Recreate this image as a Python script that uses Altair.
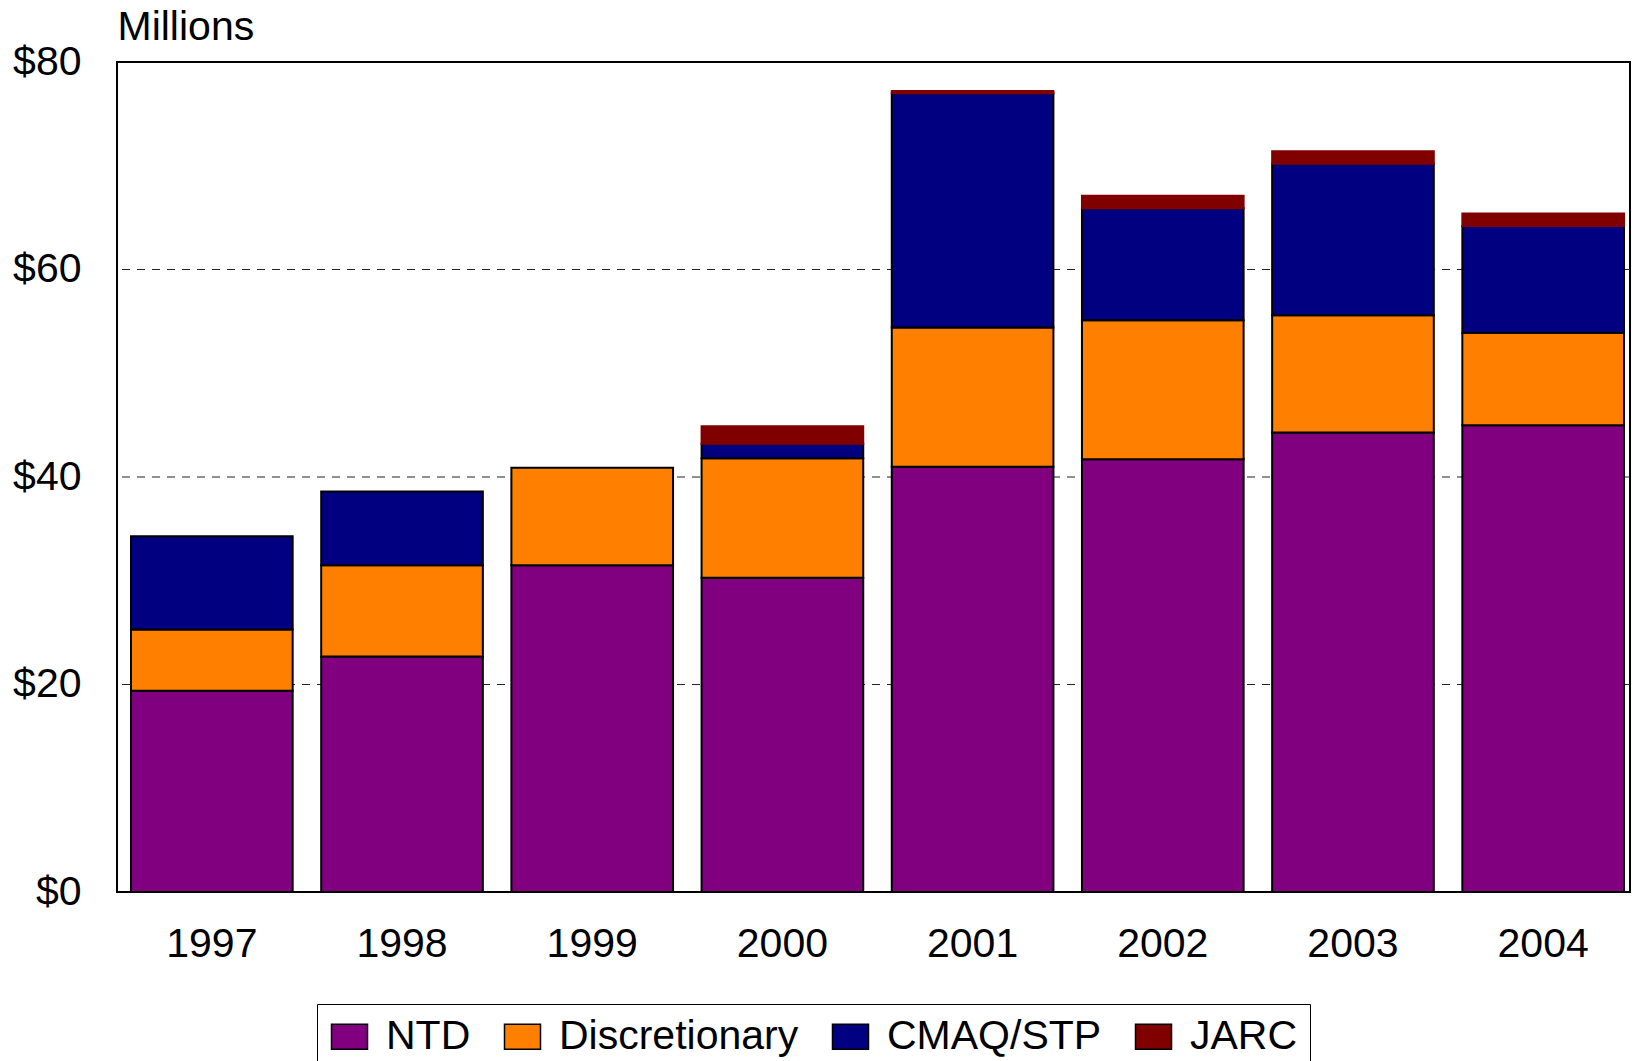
import altair as alt
import pandas as pd

years = ["1997", "1998", "1999", "2000", "2001", "2002", "2003", "2004"]
series_names = ["NTD", "Discretionary", "CMAQ/STP", "JARC"]
series_colors = ["#800080", "#FF8000", "#000080", "#800000"]
ntd = [19.4, 22.7, 31.5, 30.3, 41.0, 41.7, 44.3, 45.0]
discretionary = [5.9, 8.8, 9.4, 11.5, 13.4, 13.4, 11.3, 8.9]
cmaq_stp = [9.0, 7.1, 0.0, 1.4, 22.6, 10.8, 14.6, 10.3]
jarc = [0.0, 0.0, 0.0, 1.7, 0.2, 1.2, 1.2, 1.2]
y_ticks = [0, 20, 40, 60, 80]
grid_values = [20, 40, 60]

rows = []
for idx, (name, vals) in enumerate(zip(series_names, [ntd, discretionary, cmaq_stp, jarc])):
    for yr, v in zip(years, vals):
        rows.append({"year": yr, "series": name, "value": v, "idx": idx})
df = pd.DataFrame(rows)
grid_df = pd.DataFrame({"v": grid_values})

FONT = "Liberation Sans"
yscale = alt.Scale(domain=[0, 80], nice=False, zero=True)
yaxis = alt.Axis(
    values=y_ticks, labelExpr="'$' + datum.value", labelFontSize=41,
    labelFont=FONT, labelColor="black", labelPadding=36,
    ticks=False, domain=False, grid=False,
    title="Millions", titleAngle=0, titleX=0, titleY=-23,
    titleAlign="left", titleBaseline="alphabetic", titleFontSize=41,
    titleFont=FONT, titleFontWeight="normal", titleColor="black",
)

rules = alt.Chart(grid_df).mark_rule(
    color="#222222", strokeWidth=1.2, strokeDash=[8, 7]
).encode(
    y=alt.Y("v:Q", scale=yscale, axis=yaxis)
)

bars = alt.Chart(df).transform_filter(
    "datum.value > 0"
).mark_bar(strokeWidth=2).encode(
    x=alt.X(
        "year:N",
        sort=years,
        scale=alt.Scale(paddingInner=0.15, paddingOuter=0.0526, align=0.7),
        axis=alt.Axis(
            title=None, labelAngle=0, labelFontSize=41, labelFont=FONT,
            labelColor="black", labelBaseline="alphabetic", labelPadding=64,
            ticks=False, domain=False, grid=False,
        ),
    ),
    y=alt.Y("value:Q", stack="zero", scale=yscale, axis=yaxis),
    color=alt.Color(
        "series:N",
        scale=alt.Scale(domain=series_names, range=series_colors),
        legend=alt.Legend(
            title=None, orient="none", legendX=200, legendY=942,
            direction="horizontal", padding=12, strokeColor="black",
            fillColor="white", labelFontSize=41, labelFont=FONT,
            labelColor="black", labelOffset=16, columnPadding=30,
            symbolType="M-1,-0.694H1V0.694H-1Z", symbolSize=1296,
            symbolStrokeColor="black", symbolStrokeWidth=1.5,
            symbolOpacity=1, labelLimit=0,
        ),
    ),
    stroke=alt.condition("datum.series == 'JARC'", alt.value("#800000"), alt.value("black")),
    order=alt.Order("idx:Q", sort="ascending"),
)

chart = alt.layer(rules, bars).properties(
    width=1513,
    height=830,
    autosize=alt.AutoSizeParams(type="none"),
    padding={"left": 109, "top": 54, "right": 2, "bottom": 169},
    background="white",
).configure_view(
    stroke="black", strokeWidth=2
)

chart.save("out.html", embed_options={"renderer": "svg", "actions": False})
